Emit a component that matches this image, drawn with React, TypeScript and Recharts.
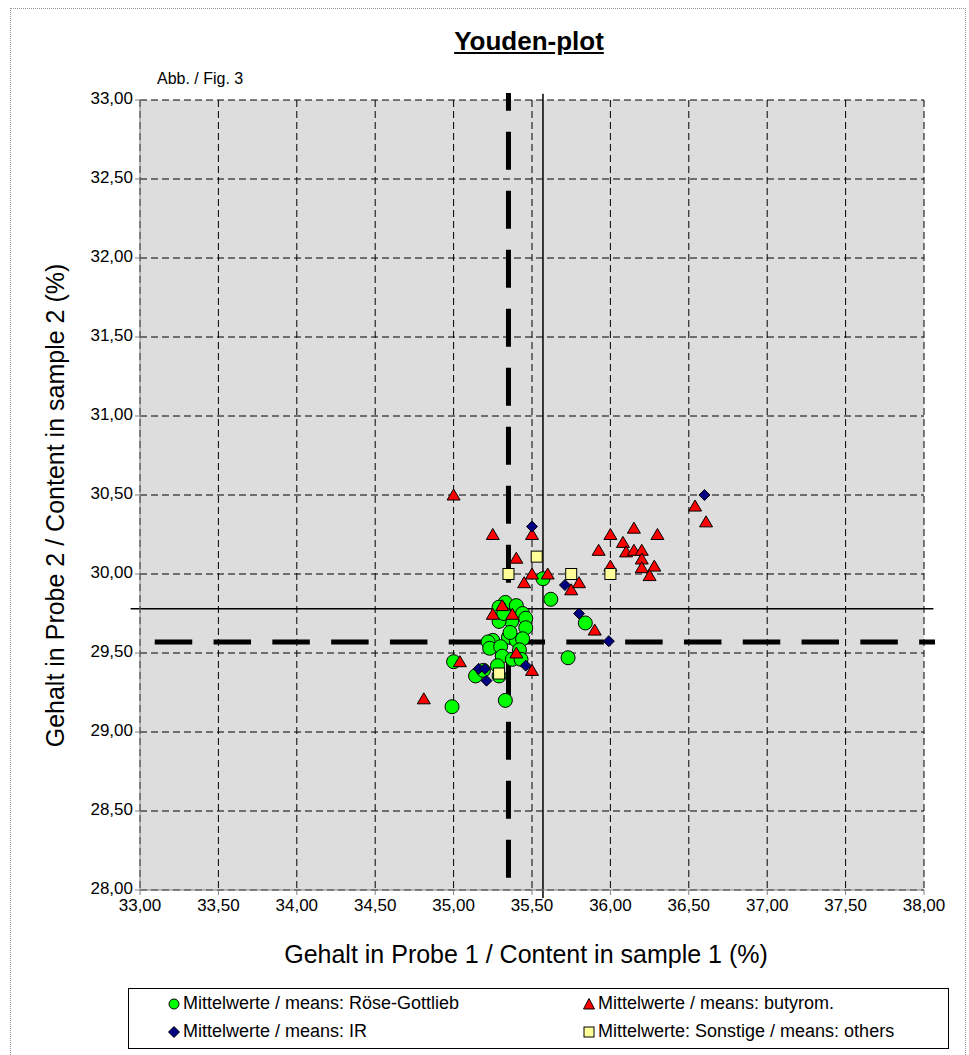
import React from 'react';
import { ScatterChart, Scatter, XAxis, YAxis, CartesianGrid, ReferenceLine } from 'recharts';

// Youden plot, sample 1 vs sample 2
const xTicks = [33, 33.5, 34, 34.5, 35, 35.5, 36, 36.5, 37, 37.5, 38];
const yTicks = [28, 28.5, 29, 29.5, 30, 30.5, 31, 31.5, 32, 32.5, 33];

const roseGottlieb = [
  { x: 35.33, y: 29.82 }, { x: 35.4, y: 29.8 }, { x: 35.29, y: 29.79 }, { x: 35.44, y: 29.75 },
  { x: 35.46, y: 29.72 }, { x: 35.37, y: 29.7 }, { x: 35.29, y: 29.7 }, { x: 35.46, y: 29.66 },
  { x: 35.35, y: 29.6 }, { x: 35.4, y: 29.58 }, { x: 35.44, y: 29.59 }, { x: 35.25, y: 29.58 },
  { x: 35.22, y: 29.57 }, { x: 35.23, y: 29.53 }, { x: 35.3, y: 29.54 }, { x: 35.42, y: 29.52 },
  { x: 35.31, y: 29.48 }, { x: 35.375, y: 29.46 }, { x: 35.43, y: 29.46 }, { x: 35.0, y: 29.445 },
  { x: 35.14, y: 29.355 }, { x: 35.19, y: 29.39 }, { x: 35.29, y: 29.355 }, { x: 35.33, y: 29.2 },
  { x: 34.99, y: 29.16 }, { x: 35.73, y: 29.47 }, { x: 35.84, y: 29.69 }, { x: 35.62, y: 29.84 },
  { x: 35.57, y: 29.97 }, { x: 35.28, y: 29.42 }, { x: 35.36, y: 29.63 }, { x: 35.32, y: 29.75 },
];

const butyrom = [
  { x: 35.0, y: 30.5 }, { x: 35.25, y: 30.25 }, { x: 35.4, y: 30.1 }, { x: 35.5, y: 30.25 },
  { x: 35.45, y: 29.945 }, { x: 35.5, y: 30.0 }, { x: 35.6, y: 30.0 }, { x: 35.75, y: 29.9 },
  { x: 35.8, y: 29.945 }, { x: 35.925, y: 30.15 }, { x: 36.0, y: 30.25 }, { x: 36.0, y: 30.05 },
  { x: 36.08, y: 30.2 }, { x: 36.1, y: 30.14 }, { x: 36.15, y: 30.29 }, { x: 36.15, y: 30.15 },
  { x: 36.2, y: 30.15 }, { x: 36.2, y: 30.095 }, { x: 36.2, y: 30.04 }, { x: 36.28, y: 30.05 },
  { x: 36.25, y: 29.99 }, { x: 36.3, y: 30.25 }, { x: 36.54, y: 30.43 }, { x: 36.61, y: 30.33 },
  { x: 35.9, y: 29.645 }, { x: 35.31, y: 29.8 }, { x: 35.25, y: 29.745 }, { x: 35.375, y: 29.745 },
  { x: 35.4, y: 29.5 }, { x: 35.04, y: 29.445 }, { x: 35.5, y: 29.39 }, { x: 34.81, y: 29.21 },
];

const infrared = [
  { x: 35.5, y: 30.3 }, { x: 35.71, y: 29.93 }, { x: 36.6, y: 30.5 }, { x: 35.8, y: 29.75 },
  { x: 35.99, y: 29.575 }, { x: 35.16, y: 29.4 }, { x: 35.2, y: 29.4 }, { x: 35.21, y: 29.325 },
  { x: 35.46, y: 29.42 },
];

const others = [
  { x: 35.35, y: 30.0 }, { x: 35.53, y: 30.11 }, { x: 35.75, y: 30.0 }, { x: 36.0, y: 30.0 },
  { x: 35.29, y: 29.37 },
];

// means and assigned values
const meanX = 35.57;
const meanY = 29.78;
const assignedX = 35.35;
const assignedY = 29.57;

const FONT = '"Liberation Sans", Arial, sans-serif';
const fmt = (v: number) => v.toFixed(2).replace('.', ',');

const XTick = ({ x, y, payload }: any) => (
  <text x={x} y={y + 2} dy="0.71em" textAnchor="middle" fontSize={17} fontFamily={FONT} fill="#000">
    {fmt(payload.value)}
  </text>
);
const YTick = ({ x, y, payload }: any) => (
  <text x={x} y={y - 2} dy="0.355em" textAnchor="end" fontSize={17} fontFamily={FONT} fill="#000">
    {fmt(payload.value)}
  </text>
);

const CircleDot = (p: any) => (
  <circle cx={p.cx} cy={p.cy} r={7} fill="#00FF00" stroke="#000" strokeWidth={1} />
);
const TriangleDot = (p: any) => (
  <polygon
    points={`${p.cx},${p.cy - 6} ${p.cx + 6.5},${p.cy + 5} ${p.cx - 6.5},${p.cy + 5}`}
    fill="#FF0000" stroke="#000" strokeWidth={1}
  />
);
const DiamondDot = (p: any) => (
  <polygon
    points={`${p.cx},${p.cy - 5.5} ${p.cx + 5.5},${p.cy} ${p.cx},${p.cy + 5.5} ${p.cx - 5.5},${p.cy}`}
    fill="#000080" stroke="#000" strokeWidth={1}
  />
);
const SquareDot = (p: any) => (
  <rect x={p.cx - 5.5} y={p.cy - 5.5} width={11} height={11} fill="#FFFF99" stroke="#000" strokeWidth={1} />
);

const legendItems = [
  { label: 'Mittelwerte / means: Röse-Gottlieb', kind: 'circle', left: 38, top: 4 },
  { label: 'Mittelwerte / means: butyrom.', kind: 'tri', left: 453, top: 4 },
  { label: 'Mittelwerte / means: IR', kind: 'diamond', left: 38, top: 32 },
  { label: 'Mittelwerte: Sonstige / means: others', kind: 'square', left: 453, top: 32 },
];

const LegendMarker = ({ kind }: { kind: string }) => (
  <svg width={14} height={14} style={{ marginRight: 2 }}>
    {kind === 'circle' && <circle cx={7} cy={7} r={5} fill="#00FF00" stroke="#000" />}
    {kind === 'tri' && <polygon points="7,1.5 12.5,12 1.5,12" fill="#FF0000" stroke="#000" />}
    {kind === 'diamond' && <polygon points="7,1.5 12.5,7 7,12.5 1.5,7" fill="#000080" stroke="#000" />}
    {kind === 'square' && <rect x={2} y={2} width={10} height={10} fill="#FFFF99" stroke="#000" />}
  </svg>
);

export default function App() {
  return (
    <div style={{ position: 'absolute', left: 0, top: 0, width: 969, height: 1055, overflow: 'hidden', background: '#fff', fontFamily: FONT }}>
      <div style={{ position: 'absolute', left: 10, top: 8, width: 954, height: 1100, borderTop: '1px dotted #999', borderLeft: '1px dotted #999', borderRight: '1px dotted #999' }} />

      <div style={{ position: 'absolute', left: 0, width: 1058, top: 26, textAlign: 'center', fontSize: 26, fontWeight: 'bold', textDecoration: 'underline' }}>
        Youden-plot
      </div>
      <div style={{ position: 'absolute', left: 157, top: 70, fontSize: 16 }}>Abb. / Fig. 3</div>

      <ScatterChart width={969} height={1055} margin={{ top: 100, right: 45, bottom: 135, left: 0 }} style={{ position: 'absolute', left: 0, top: 0 }}>
        <CartesianGrid stroke="#000" strokeDasharray="7 4" fill="#DDDDDD" fillOpacity={1} />
        <XAxis
          type="number" dataKey="x" domain={[33, 38]} ticks={xTicks}
          height={30} stroke="#808080" tickSize={5} interval={0} tick={<XTick />}
        />
        <YAxis
          type="number" dataKey="y" domain={[28, 33]} ticks={yTicks}
          width={140} stroke="#808080" tickSize={5} interval={0} tick={<YTick />}
        />
        <ReferenceLine segment={[{ x: meanX, y: 27.95 }, { x: meanX, y: 33.04 }]} stroke="#000" strokeWidth={1.5} ifOverflow="visible" />
        <ReferenceLine segment={[{ x: 32.94, y: meanY }, { x: 38.06, y: meanY }]} stroke="#000" strokeWidth={1.5} ifOverflow="visible" />
        <ReferenceLine segment={[{ x: assignedX, y: 28.078 }, { x: assignedX, y: 33.044 }]} stroke="#000" strokeWidth={5} strokeDasharray="38 21" ifOverflow="visible" />
        <ReferenceLine segment={[{ x: 33.094, y: assignedY }, { x: 38.07, y: assignedY }]} stroke="#000" strokeWidth={5} strokeDasharray="37.5 21.3" ifOverflow="visible" />
        <Scatter name="Röse-Gottlieb" data={roseGottlieb} shape={CircleDot} isAnimationActive={false} />
        <Scatter name="butyrom." data={butyrom} shape={TriangleDot} isAnimationActive={false} />
        <Scatter name="IR" data={infrared} shape={DiamondDot} isAnimationActive={false} />
        <Scatter name="others" data={others} shape={SquareDot} isAnimationActive={false} />
      </ScatterChart>

      <div style={{ position: 'absolute', left: 0, width: 1052, top: 940, textAlign: 'center', fontSize: 25 }}>
        Gehalt in Probe 1 / Content in sample 1 (%)
      </div>
      <div style={{ position: 'absolute', left: 55 - 300, top: 506 - 15, width: 600, textAlign: 'center', fontSize: 25, transform: 'rotate(-90deg)' }}>
        Gehalt in Probe 2 / Content in sample 2 (%)
      </div>

      {/* legend box */}
      <div style={{ position: 'absolute', left: 128, top: 988, width: 819, height: 59, border: '1px solid #000', background: '#fff', fontSize: 18 }}>
        {legendItems.map((it) => (
          <div key={it.label} style={{ position: 'absolute', left: it.left, top: it.top, display: 'flex', alignItems: 'center', whiteSpace: 'nowrap' }}>
            <LegendMarker kind={it.kind} />
            {it.label}
          </div>
        ))}
      </div>
    </div>
  );
}
